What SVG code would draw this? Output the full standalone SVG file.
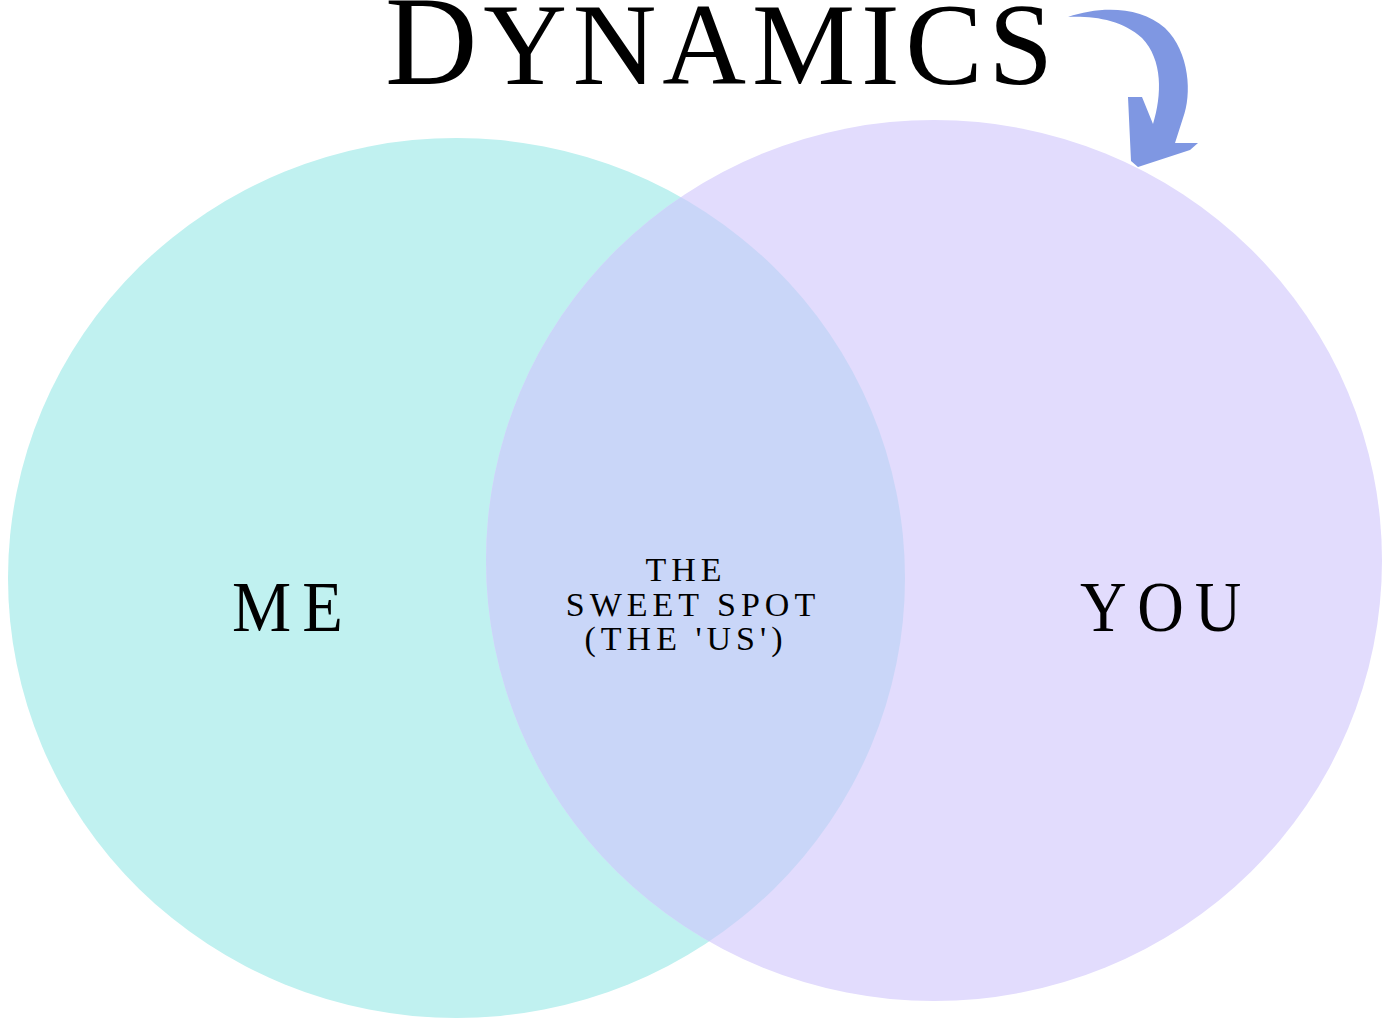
<svg xmlns="http://www.w3.org/2000/svg" width="1387" height="1019" viewBox="0 0 1387 1019">
<style>
.lbl{font-family:"Liberation Serif","Times New Roman",serif;fill:#000;}
.big{font-size:72px;letter-spacing:12px;}
.mid{font-size:34px;letter-spacing:5px;text-anchor:middle;}
</style>
<defs>
<clipPath id="clipLeft"><ellipse cx="456.5" cy="578" rx="448.5" ry="440"/></clipPath>
</defs>
<rect width="1387" height="1019" fill="#fff"/>
<g id="me">
<ellipse cx="456.5" cy="578" rx="448.5" ry="440" fill="#C0F1F0"/>
<text class="lbl big" x="232" y="631" textLength="122" lengthAdjust="spacingAndGlyphs">ME</text>
</g>
<g id="you">
<ellipse cx="934" cy="560.5" rx="448" ry="440.5" fill="#E2DCFD"/>
<text class="lbl big" x="1080" y="631" textLength="172" lengthAdjust="spacingAndGlyphs">YOU</text>
</g>
<g id="sweet-spot">
<ellipse cx="934" cy="560.5" rx="448" ry="440.5" fill="#C9D6F8" clip-path="url(#clipLeft)"/>
<text class="lbl mid" x="686" y="581">THE</text>
<text class="lbl mid" x="693" y="616">SWEET SPOT</text>
<text class="lbl mid" x="686" y="650">(THE 'US')</text>
</g>
<g id="title">
<text class="lbl" x="385" y="84" textLength="668" lengthAdjust="spacing"><tspan font-size="128">D</tspan><tspan font-size="116">YNAMICS</tspan></text>
</g>
<g id="connectors">
<path d="M1068,17 C1100,6 1140,6 1165,28 C1190,52 1192,95 1183,118 L1175,143 L1198,143 L1190,150 L1138,167 L1131,161 L1128,97 L1142,97 L1153,124 C1162,95 1163,60 1142,38 C1122,20 1095,16 1068,17 Z" fill="#7F97E2"/>
</g>
</svg>
